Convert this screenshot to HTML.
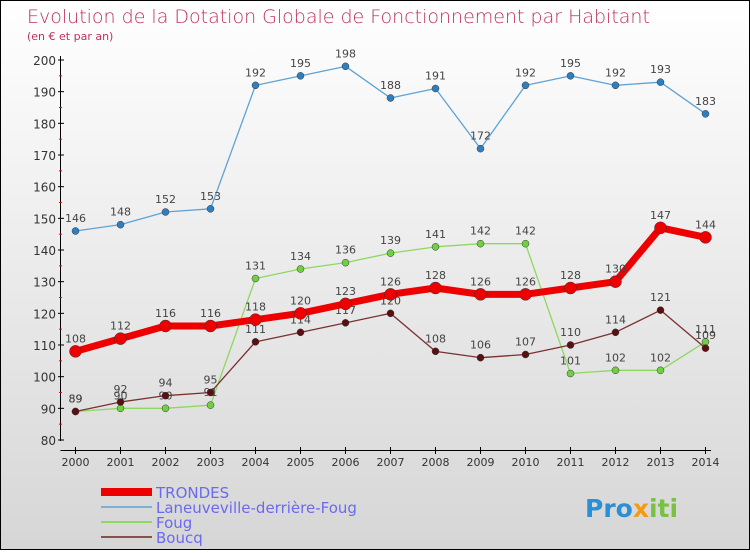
<!DOCTYPE html>
<html><head><meta charset="utf-8"><style>
html,body{margin:0;padding:0}
body{width:750px;height:550px;overflow:hidden;font-family:"DejaVu Sans","Liberation Sans",sans-serif}
#wrap{position:relative;width:748px;height:548px;border:1px solid #000;background:linear-gradient(#ffffff,#d6d6d6)}
svg text{font-family:"DejaVu Sans","Liberation Sans",sans-serif}
</style></head><body>
<div id="wrap">
<svg id="chart" width="748" height="548" xmlns="http://www.w3.org/2000/svg">
<text x="26" y="22" font-size="19" fill="#c0305a" font-weight="200">Evolution de la Dotation Globale de Fonctionnement par Habitant</text>
<text x="26" y="39" font-size="11" fill="#c0305a">(en € et par an)</text>
<g id="axes"></g><g id="series"></g><g id="legend"></g>
<text x="584" y="516" font-size="25" font-weight="bold" fill="#2b8fd6">Pro<tspan fill="#f39c12">x</tspan><tspan fill="#7ac143">iti</tspan></text>
</svg></div>
<script>
const years=[2000,2001,2002,2003,2004,2005,2006,2007,2008,2009,2010,2011,2012,2013,2014];
const trondes=[108,112,116,116,118,120,123,126,128,126,126,128,130,147,144];
const laneuveville=[146,148,152,153,192,195,198,188,191,172,192,195,192,193,183];
const foug=[89,90,90,91,131,134,136,139,141,142,142,101,102,102,111];
const boucq=[89,92,94,95,111,114,117,120,108,106,107,110,114,121,109];
const yTicks=[80,90,100,110,120,130,140,150,160,170,180,190,200];
const NS="http://www.w3.org/2000/svg";
const X=y=>74.5+(y-2000)*45;
const Y=v=>439-(v-80)*(380/120);
function mk(tag,attrs,parent){const e=document.createElementNS(NS,tag);for(const k in attrs)e.setAttribute(k,attrs[k]);parent.appendChild(e);return e;}
const axes=document.getElementById('axes');
let a=mk('line',{x1:59.5,y1:55,x2:59.5,y2:440,stroke:'#000'},axes);


a=mk('line',{x1:59.5,y1:449.5,x2:710,y2:449.5,stroke:'#000'},axes);


yTicks.forEach(v=>{
 mk('line',{x1:57,x2:63,y1:Y(v),y2:Y(v),stroke:'#000'},axes);
 if(v<200)mk('line',{x1:58,x2:61,y1:Y(v+5),y2:Y(v+5),stroke:'#f00'},axes);
 const t=mk('text',{x:55,y:Y(v)+5,'font-size':12,'text-anchor':'end',fill:'#333'},axes);t.textContent=v;
 
 
});
years.forEach(yr=>{
 mk('line',{x1:X(yr),x2:X(yr),y1:446,y2:453,stroke:'#000'},axes);
 const t=mk('text',{x:X(yr),y:465,'font-size':11,'text-anchor':'middle',fill:'#333'},axes);t.textContent=yr;
 
 
});
const ser=document.getElementById('series');
function draw(data,color,dot,width,r,name){
 const g=mk('g',{},ser);
 
 
 mk('polyline',{points:data.map((v,i)=>X(years[i])+','+Y(v)).join(' '),fill:'none',stroke:color,'stroke-width':width,'stroke-linejoin':'round'},g);
 data.forEach((v,i)=>{
  const c=mk('circle',{cx:X(years[i]),cy:Y(v),r:r,fill:dot,stroke:'#333','stroke-width':0.5},g);
  
  
  const t=mk('text',{x:X(years[i]),y:Y(v)-9,'font-size':11,'text-anchor':'middle',fill:'#444'},g);t.textContent=v;
  
  
 });
}
draw(laneuveville,'#5ea3d6','#2f7fc0',1.3,3.5,'laneuveville');
draw(foug,'#8ed860','#6fd040',1.3,3.5,'foug');
draw(boucq,'#7a3030','#5a1010',1.3,3.5,'boucq');
draw(trondes,'#ee0000','#ee0000',7,6,'trondes');
const lg=document.getElementById('legend');
const items=[['TRONDES','#ee0000',8],['Laneuveville-derrière-Foug','#7fb0d0',2],['Foug','#8ed860',2],['Boucq','#8a5050',2]];
items.forEach((it,i)=>{
 const y=491+i*15;
 mk('line',{x1:100,x2:151,y1:y,y2:y,stroke:it[1],'stroke-width':it[2]},lg);
 const t=mk('text',{x:155,y:y+6,'font-size':15,fill:'#6a6aee'},lg);t.textContent=it[0];
 
 
});
</script>
</body></html>
